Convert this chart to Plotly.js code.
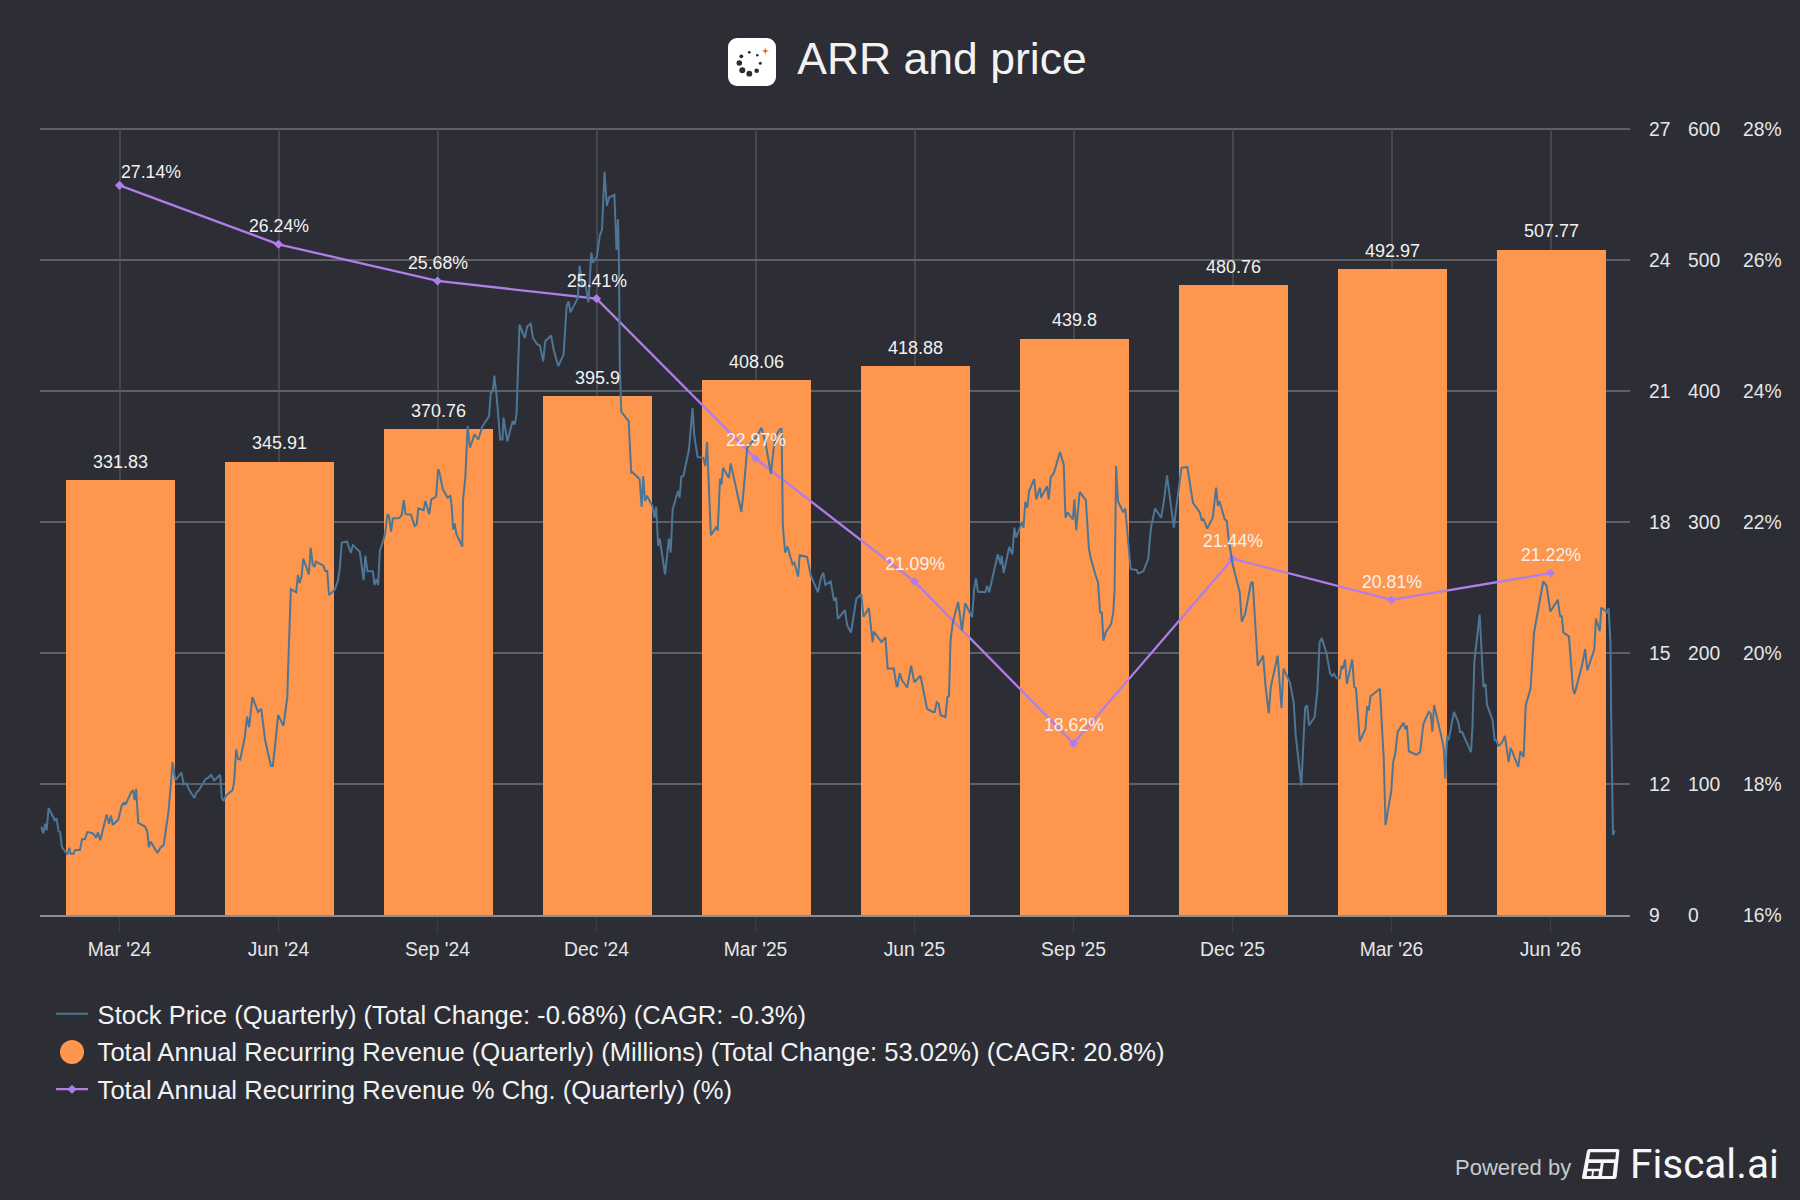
<!DOCTYPE html>
<html><head><meta charset="utf-8">
<script src="https://cdn.plot.ly/plotly-3.0.1.min.js"></script>
<style>html,body{margin:0;padding:0;background:#2c2d35}#c{width:1800px;height:1200px}</style>
</head><body><div id="c"></div>
<script>
const quarters=["Mar '24","Jun '24","Sep '24","Dec '24","Mar '25","Jun '25","Sep '25","Dec '25","Mar '26","Jun '26"];
const arr=[331.83,345.91,370.76,395.9,408.06,418.88,439.8,480.76,492.97,507.77];
const arrLabels=["331.83","345.91","370.76","395.9","408.06","418.88","439.8","480.76","492.97","507.77"];
const arrChg=[27.14,26.24,25.68,25.41,22.97,21.09,18.62,21.44,20.81,21.22];
const priceDay=[0.5,1.3,2,2.6,3.4,4.3,5.3,5.8,6.5,7.3,7.9,8.6,9.8,10.8,11.5,12,13.2,13.8,15.7,16.5,17.7,18.6,20.4,21.3,22,22.8,23.7,24.9,26.2,27.1,27.9,28.6,30.8,32.1,32.9,33.8,35.9,36.6,37.2,37.8,38.6,41.4,42.2,42.8,43.5,46.2,47.4,48.6,50.5,51.4,52.1,53.2,55.6,56.5,57.5,58.7,60.7,61.4,62.5,65.2,66.1,67.2,68.5,70.8,71.5,72.1,73,75.7,76.3,77.1,77.8,78.7,80.5,81.4,82.2,83.5,85.7,87,88.5,90.8,91.5,92.3,93.6,95.7,96.5,97.2,97.8,98.6,100.7,101.4,102,102.8,103.5,105.7,106.4,107.2,107.9,108.5,111.4,112.1,112.9,113.6,115.9,117.1,117.8,118.6,120.7,122.2,123,125.7,127.2,127.9,128.7,130.8,131.5,132.3,132.9,133.6,135.1,135.7,136.6,137.2,138,138.7,141.2,142.2,143,143.7,145.8,147.3,148.1,148.7,150.8,151.5,153,153.8,155.7,156.5,157.2,158.3,160.2,161.3,161.8,162.4,163,163.7,166,166.3,167.2,168.1,169,170.8,172.3,173.8,176.5,177.2,178,178.6,179.5,180.9,181.8,182.2,183.7,185.8,186.6,187.3,188.5,190.6,191.5,192.9,193.8,195.6,196.5,197.8,198.6,200.9,201.9,203.7,205.8,207,207.8,208.5,211.4,212.1,213.2,214.4,215.6,216.7,217.4,218.9,220.1,220.9,221.9,222.8,223.7,225.8,226.6,227.2,227.6,227.9,228.5,231.4,232.4,232.9,235.7,236.5,237.1,237.8,238.6,240.7,241.5,242.2,243,243.6,245.7,247.2,247.9,248.7,250.8,251.4,252.1,252.9,255.1,256.5,257.2,258.5,260.7,261.5,262.2,263.7,266,266.4,267.3,267.9,268.5,270.8,271.5,275.7,276.5,278,279.1,281.8,283.6,285.2,287.3,288.5,289.3,290.8,291.5,292,292.9,293.8,295.8,296.5,298,298.6,301.5,303,305.8,307,307.9,308.7,310.8,312.1,312.9,313.6,316.4,317.3,318.8,320.9,322.8,323.7,325.8,326.6,327.3,327.8,330.8,332.3,333.2,335.6,336.7,337.1,337.9,338.9,340.9,342.4,343.7,346.1,348.7,351,351.7,352.5,353.2,354,355.9,356.7,357.3,357.9,358.8,360.9,362.4,363.7,366.4,367.2,367.9,368.7,371.6,372.3,373.1,376.5,377.6,378,378.8,381,382.2,383,383.7,386,386.6,387.3,388.1,388.8,390.8,391.6,393.1,393.5,395.8,396.5,397.3,398.6,400.9,402.4,403.1,403.9,406,406.6,407.3,408.7,411.1,412.3,413.1,415.2,415.9,416.7,417.4,418,418.9,421,421.9,422.4,423,423.7,425.8,426.6,427.3,428.7,431,431.7,433.7,435.6,436.7,438.3,440.7,441.9,443,445.7,446.4,448.7,451,453.2,455.9,456.7,457.3,458.8,461,462.3,463,463.6,465.7,466.5,467.2,468,468.8,471.6,472.4,473.7,476,476.7,477.8,478.7,480.8,481.7,483,483.8,486.5,487.3,488,488.8,491.3,492.8,493.6,495.8,496.6,497.3,498.1,498.8,501,502.1,503,503.8,505.6,507.1,507.9,508.6,509.7,510.9,511.6,512.2,513,513.7,515.8,516.6,517.3,518.1,518.8,521,521.7,522.3,523,526.7,528.2,528.9,531.2,531.9,532.7,533.7,536,536.7,537.3,538.1,539.4,541,542.5,543.8,545.9,546.7,547.3,548,551,551.8,552.4,553.1,553.7,555.8,557.5,558.2,559,561.2,562.5,563.1,563.8,565.9,567.4,568.2,568.8,571,571.8,572.5,573.3,574.8,575.8,577.3,578.1,581.1,581.9,583.2,584,585.9,587.3,590.9,592.2,593.7,596.6,597.5,598.2,598.8,601,602.6,603.2,606.1,607.4,608.2,611,611.6,613.1,613.7,616,616.6,617.3,617.6,618.1,618.3,619];
const priceVal=[11.02,10.87,11.09,10.94,11.45,11.35,11.22,11.17,11.21,10.92,10.9,10.56,10.46,10.39,10.54,10.4,10.4,10.49,10.49,10.73,10.74,10.9,10.88,10.84,10.77,10.89,10.71,11.02,11.3,11.09,11.28,11.06,11.19,11.5,11.57,11.55,11.82,11.86,11.63,11.89,11.11,11.02,10.9,10.55,10.68,10.42,10.55,10.6,11.36,11.97,12.5,12.08,12.26,11.99,12.01,11.86,11.68,11.8,11.86,12.12,12.14,12.21,12.08,12.21,11.68,11.61,11.73,11.86,12.05,12.79,12.58,12.56,13.07,13.55,13.3,13.99,13.65,13.72,13,12.41,12.41,12.81,13.58,13.33,13.76,13.99,15.09,16.46,16.39,16.79,16.6,16.75,17.16,16.8,17.41,17.03,16.97,17.09,17,16.88,16.88,16.33,16.45,16.65,16.92,17.53,17.55,17.29,17.47,17.32,16.67,17.23,16.87,16.87,16.56,16.69,16.56,17.34,17.61,17.76,18.18,18.14,17.78,18.08,18.09,18.16,18.5,18.18,18.17,17.91,17.95,18.31,18.27,18.48,18.18,18.52,18.58,19.21,19.09,18.75,18.56,18.6,18.38,17.83,17.97,17.72,17.44,18.52,19.02,20.2,19.7,20.01,19.89,20.18,20.42,20.96,21,21.35,20.88,19.89,19.89,20.39,19.85,20.31,20.23,20.46,22.52,22.21,22.48,22.54,22.21,22.06,22.04,21.68,22.14,22.27,21.95,21.57,21.83,22.94,23.05,22.8,23.13,23.87,23.39,23.43,23.03,24.17,23.94,24.08,24.57,24.69,26.02,25.24,25.43,25.49,24.23,24.93,23.85,21.57,20.52,20.31,19.13,19.14,18.98,18.35,19.05,18.48,18.6,18.37,18.1,18.35,17.45,17.62,16.8,17.62,17.3,18.29,18.71,18.56,19.04,19.05,19.66,20.61,19.97,19.49,19.47,19.28,19.83,17.7,17.9,17.8,18.99,18.86,19.24,19.01,19.34,18.23,18.67,19.7,19.78,19.97,20.16,19.81,19.11,19.74,19.97,20.12,20.13,17.91,17.3,17.44,17.03,17.07,16.75,17.24,17.2,16.77,16.39,16.73,16.84,16.56,16.64,16.2,16.27,15.78,15.98,15.63,15.47,16.24,16.35,15.83,16.03,15.63,15.25,15.49,15.25,15.36,14.64,14.65,14.24,14.24,14.54,14.37,14.21,14.71,14.33,14.48,13.72,13.65,13.65,13.87,13.84,13.58,13.53,13.99,14.01,15.28,15.7,16.17,15.51,16.14,15.82,16.46,16.71,16.4,16.39,16.54,16.39,17.26,17.03,17.23,16.83,17.43,17.26,17.87,17.64,18,17.87,18.46,18.33,18.71,18.98,18.52,18.79,18.56,18.82,18.52,19.02,19.13,19.6,19.32,18.1,18.22,18.06,18.52,17.81,18.69,18.5,17.39,17.15,16.73,16.62,15.93,15.93,15.28,15.47,15.66,15.93,16.46,19.28,18.48,18.22,18.31,17.83,16.92,16.9,16.82,16.87,17.15,17.87,18.31,18.1,18.52,19.07,17.87,18.22,19.24,19.26,18.44,18.22,18.03,18.08,17.85,18.1,18.79,18.37,18.48,18.06,18.03,17.61,17.3,17.03,16.39,15.72,15.89,16.6,16.63,15.63,14.71,14.94,14.26,13.62,14.22,14.94,14.22,13.74,14.64,14.33,13.87,13.11,11.97,12.88,13.76,13.8,13.34,13.53,14.14,15.25,15.34,15.02,14.54,14.47,14.52,14.42,14.42,14.7,14.64,14.85,14.29,14.85,14.22,14.19,13.65,12.98,13.26,13.78,13.68,14.01,14.18,12.58,11.06,11.86,12.5,12.69,13.2,13.4,13.26,13.34,12.75,12.72,12.67,12.73,13.38,13.65,13.61,13.2,13.81,13.05,12.81,12.12,13.11,13,13.65,13.42,13.19,13.19,12.92,12.73,13.34,14.79,15.88,14.22,14.29,13.81,13.46,13,13,12.86,12.96,13.1,12.5,12.83,12.39,12.75,12.62,13.8,14.18,15.47,16.64,16.54,15.95,16.22,15.85,15.84,15.47,15.38,14.18,14.06,14.71,15.09,14.6,15.09,15.79,15.5,16.04,15.93,16.03,15.25,13.57,11.97,10.83,10.93];
const legendNames=["Stock Price (Quarterly) (Total Change: -0.68%) (CAGR: -0.3%)","Total Annual Recurring Revenue (Quarterly) (Millions) (Total Change: 53.02%) (CAGR: 20.8%)","Total Annual Recurring Revenue % Chg. (Quarterly) (%)"];

const BG='#2c2d35',ORANGE='#ff964d',PURPLE='#b07ee8',BLUE='#4d7695',TXT='#f2f2f2',TICK='#e6e6e8';
const FF='"Liberation Sans", Arial, sans-serif';
const L=40,T=129,R=1790,B=915;
const px=x=>(x-L)/(R-L), py=y=>(B-y)/(B-T);

const traces=[
 {type:'bar',x:quarters,y:arr,width:0.69,offset:-0.3387,marker:{color:ORANGE},xaxis:'x',yaxis:'y',showlegend:false,name:legendNames[1],hoverinfo:'skip'},
 {type:'scatter',mode:'lines+markers',x:quarters,y:arrChg,xaxis:'x',yaxis:'y3',name:legendNames[2],line:{color:PURPLE,width:2.3},marker:{symbol:'diamond',size:7,color:PURPLE},legendgroup:'c',legendrank:3,hoverinfo:'skip'},
 {type:'scatter',mode:'lines',x:priceDay,y:priceVal,xaxis:'x2',yaxis:'y2',name:legendNames[0],line:{color:BLUE,width:2},legendgroup:'a',legendrank:1,hoverinfo:'skip'},
 {type:'scatter',mode:'markers',x:[quarters[0]],y:[null],xaxis:'x',yaxis:'y',name:legendNames[1],marker:{symbol:'circle',size:16,color:ORANGE},legendgroup:'b',legendrank:2,hoverinfo:'skip'}
];

const annotations=[];
arr.forEach((v,i)=>annotations.push({x:quarters[i],y:v,xref:'x',yref:'y',text:arrLabels[i],showarrow:false,yshift:18.5,xshift:1,xanchor:'center',yanchor:'middle',font:{family:FF,size:18,color:TXT}}));
arrChg.forEach((v,i)=>annotations.push({x:quarters[i],y:v,xref:'x',yref:'y3',text:v.toFixed(2)+'%',showarrow:false,yshift:i==0?13:18,xshift:i==0?31:0,xanchor:'center',yanchor:'middle',font:{family:FF,size:17.7,color:TXT}}));
annotations.push({xref:'paper',yref:'paper',x:px(1573),y:py(1167),text:'Powered by',showarrow:false,xanchor:'right',yanchor:'middle',font:{family:FF,size:22,color:'#c9c9cd'}});
annotations.push({xref:'paper',yref:'paper',x:px(1628),y:py(1164),text:'Fiscal.ai',showarrow:false,xanchor:'left',yanchor:'middle',font:{family:'Roboto',size:40.5,weight:400,color:'#f6f6f6'}});

const logoSvg=`<svg xmlns="http://www.w3.org/2000/svg" viewBox="0 0 48 48"><rect width="48" height="48" rx="9" fill="#fff"/><g fill="#2c2d35"><circle cx="21.3" cy="14.3" r="1.4"/><circle cx="29.3" cy="17.3" r="1.3"/><circle cx="32.3" cy="25.3" r="1.5"/><circle cx="28.7" cy="32.7" r="2.3"/><circle cx="21.3" cy="35.7" r="2.9"/><circle cx="14.3" cy="32.3" r="3"/><circle cx="11.3" cy="25" r="2.8"/><circle cx="13.3" cy="18.3" r="1.9"/></g><path d="M37.3 9l1.1 2.9 2.9 1.1-2.9 1.1-1.1 2.9-1.1-2.9-2.9-1.1 2.9-1.1z" fill="#ff964d"/><circle cx="37.3" cy="13" r="0.7" fill="#2c2d35"/></svg>`;
const fiscalSvg=`<svg xmlns="http://www.w3.org/2000/svg" viewBox="22 27 114 90"><path d="M45 27H128Q135 27 134 33L126 111Q125 117 119 117H28Q21 117 22 111L37 33Q38 27 45 27Z" fill="#f6f6f6"/><g fill="#2c2d35"><path d="M47 37H124L122 58H43Z"/><path d="M42 69H78L76 86H39Z"/><path d="M38 94H52L50 108H36Z"/><path d="M58 94H73L71 108H56Z"/><path d="M87 69H118L114 108H82Z"/></g></svg>`;
const uri=s=>'data:image/svg+xml;charset=utf-8,'+encodeURIComponent(s);

const layout={
 width:1800,height:1200,paper_bgcolor:BG,plot_bgcolor:BG,
 margin:{l:L,r:1800-R,t:T,b:1200-B,autoexpand:false},
 title:{text:'ARR and price',x:942/1800,xanchor:'center',y:1-58.7/1200,yanchor:'middle',font:{family:FF,size:44.5,color:TXT}},
 font:{family:FF,color:TXT},
 bargap:0,
 xaxis:{type:'category',categoryorder:'array',categoryarray:quarters,domain:[0,px(1630)],range:[-0.5,9.5],showgrid:true,gridcolor:'#45464e',gridwidth:2,ticks:'outside',ticklen:16,tickwidth:1.5,tickcolor:'#3d3e44',tickfont:{family:FF,size:19.3,color:TICK},showline:true,linecolor:'#8b8c94',linewidth:2,zeroline:false,anchor:'y',fixedrange:true},
 xaxis2:{type:'linear',overlaying:'x',range:[0,625],domain:[0,px(1630)],visible:false,anchor:'y',fixedrange:true},
 yaxis:{range:[0,600],dtick:100,tick0:0,anchor:'free',position:px(1687),side:'right',showgrid:true,gridcolor:'#5e5f67',gridwidth:2,zeroline:false,showline:false,ticks:'',tickfont:{family:FF,size:19.3,color:TICK},fixedrange:true},
 yaxis2:{range:[9,27],dtick:3,tick0:9,overlaying:'y',anchor:'free',position:px(1648),side:'right',showgrid:false,zeroline:false,showline:false,ticks:'',tickfont:{family:FF,size:19.3,color:TICK},fixedrange:true},
 yaxis3:{range:[16,28],dtick:2,tick0:16,ticksuffix:'%',overlaying:'y',anchor:'free',position:px(1742),side:'right',showgrid:false,zeroline:false,showline:false,ticks:'',tickfont:{family:FF,size:19.3,color:TICK},fixedrange:true},
 legend:{x:px(51),xanchor:'left',y:py(990.5),yanchor:'top',bgcolor:'rgba(0,0,0,0)',font:{family:FF,size:25.6,color:TXT},itemwidth:32,tracegroupgap:1.5,traceorder:'grouped',itemclick:false,itemdoubleclick:false},
 shapes:[
  {type:'circle',xref:'paper',yref:'paper',x0:px(60),x1:px(84),y0:py(1064),y1:py(1040),fillcolor:ORANGE,line:{width:0},layer:'above'},
  {type:'line',xref:'paper',yref:'paper',x0:0,x1:px(1630),y0:1,y1:1,line:{color:'#5e5f67',width:2},layer:'below'}
 ],
 images:[
  {source:uri(logoSvg),xref:'paper',yref:'paper',x:px(728),y:py(38),sizex:48/(R-L),sizey:48/(B-T),xanchor:'left',yanchor:'top',sizing:'stretch',layer:'above'},
  {source:uri(fiscalSvg),xref:'paper',yref:'paper',x:px(1582),y:py(1149),sizex:38/(R-L),sizey:30/(B-T),xanchor:'left',yanchor:'top',sizing:'stretch',layer:'above'}
 ],
 annotations:annotations,
 showlegend:true
};
Plotly.newPlot('c',traces,layout,{displayModeBar:false,staticPlot:true}).then(()=>{
 document.querySelectorAll('.legendtext').forEach(t=>{t.setAttribute('x',46.6);t.querySelectorAll('tspan').forEach(s=>{if(s.hasAttribute('x'))s.setAttribute('x',46.6);});});
});
</script></body></html>
